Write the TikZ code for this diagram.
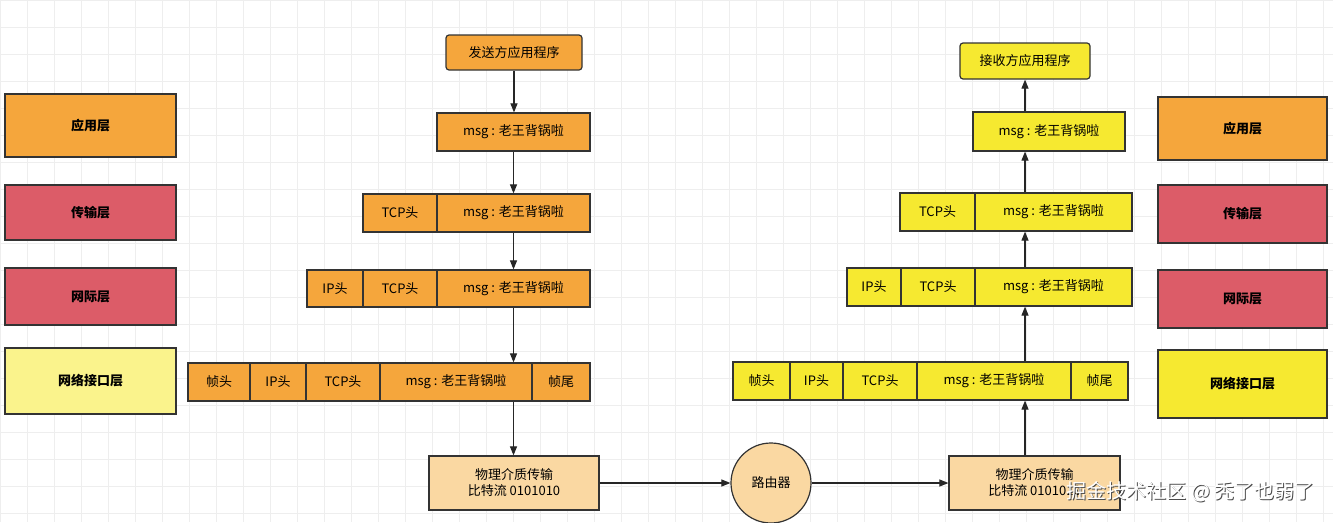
\documentclass[tikz,border=0pt]{standalone}
\usepackage{fontspec}
\setmainfont{Noto Sans CJK SC}
\usetikzlibrary{arrows.meta}
\definecolor{org}{HTML}{F5A63C}
\definecolor{redb}{HTML}{DC5C68}
\definecolor{ylw}{HTML}{F6E930}
\definecolor{lyl}{HTML}{FAF38C}
\definecolor{phy}{HTML}{FAD8A2}
\definecolor{grd}{HTML}{EEEEEE}
\begin{document}
\begin{tikzpicture}[x=1pt,y=-1pt,
  cell/.style={draw=black!80,line width=1.2pt,font=\fontsize{13}{16}\selectfont},
  side/.style={draw=black!80,line width=1.2pt,font=\fontsize{13}{15}\selectfont\bfseries},
  arr/.style={-{Triangle[length=9pt,width=7pt]},line width=1.1pt,draw=black!85}]
\useasboundingbox (0,0) rectangle (1333,522);
\fill[white] (0,0) rectangle (1333,522);
\foreach \x in {0,27,...,1333} \draw[grd,line width=0.6pt] (\x,0) -- (\x,522);
\foreach \y in {0,27,...,522} \draw[grd,line width=0.6pt] (0,\y) -- (1333,\y);
% side boxes
\node[side,fill=org,minimum width=171,minimum height=63] (la) at (90.5,125.5) {应用层};
\node[side,fill=redb,minimum width=171,minimum height=55] (lt) at (90.5,212.5) {传输层};
\node[side,fill=redb,minimum width=171,minimum height=57] (ln) at (90.5,296.5) {网际层};
\node[side,fill=lyl,minimum width=171,minimum height=66] (li) at (90.5,381) {网络接口层};
\node[side,fill=org,minimum width=169,minimum height=63] (ra) at (1242.5,128.5) {应用层};
\node[side,fill=redb,minimum width=169,minimum height=58] (rt) at (1242.5,214) {传输层};
\node[side,fill=redb,minimum width=169,minimum height=58] (rn) at (1242.5,299) {网际层};
\node[side,fill=ylw,minimum width=169,minimum height=68] (ri) at (1242.5,384) {网络接口层};
% left stack
\node[cell,fill=org,rounded corners=3pt,minimum width=136,minimum height=35] (sapp) at (514,52.5) {发送方应用程序};
\node[cell,fill=org,minimum width=153,minimum height=38] (s1m) at (513.5,132) {msg : 老王背锅啦};
\node[cell,fill=org,minimum width=74,minimum height=38] (s2t) at (400,213) {TCP头};
\node[cell,fill=org,minimum width=153,minimum height=38] (s2m) at (513.5,213) {msg : 老王背锅啦};
\node[cell,fill=org,minimum width=56,minimum height=37] (s3i) at (335,288.5) {IP头};
\node[cell,fill=org,minimum width=74,minimum height=37] (s3t) at (400,288.5) {TCP头};
\node[cell,fill=org,minimum width=153,minimum height=37] (s3m) at (513.5,288.5) {msg : 老王背锅啦};
\node[cell,fill=org,minimum width=62,minimum height=38] (s4f) at (219,382) {帧头};
\node[cell,fill=org,minimum width=56,minimum height=38] (s4i) at (278,382) {IP头};
\node[cell,fill=org,minimum width=74,minimum height=38] (s4t) at (343,382) {TCP头};
\node[cell,fill=org,minimum width=152,minimum height=38] (s4m) at (456,382) {msg : 老王背锅啦};
\node[cell,fill=org,minimum width=58,minimum height=38] (s4e) at (561,382) {帧尾};
\node[cell,fill=phy,minimum width=170,minimum height=54,align=center] (sphy) at (514,483) {物理介质传输\\比特流 0101010};
\node[cell,fill=phy,circle,minimum size=80] (router) at (771,483) {路由器};
% right stack
\node[cell,fill=ylw,rounded corners=3pt,minimum width=130,minimum height=36] (rapp) at (1025,61) {接收方应用程序};
\node[cell,fill=ylw,minimum width=152,minimum height=39] (r1m) at (1049,131.5) {msg : 老王背锅啦};
\node[cell,fill=ylw,minimum width=75,minimum height=38] (r2t) at (937.5,212) {TCP头};
\node[cell,fill=ylw,minimum width=157,minimum height=38] (r2m) at (1053.5,212) {msg : 老王背锅啦};
\node[cell,fill=ylw,minimum width=54,minimum height=38] (r3i) at (874,287) {IP头};
\node[cell,fill=ylw,minimum width=74,minimum height=38] (r3t) at (938,287) {TCP头};
\node[cell,fill=ylw,minimum width=157,minimum height=38] (r3m) at (1053.5,287) {msg : 老王背锅啦};
\node[cell,fill=ylw,minimum width=57,minimum height=38] (r4f) at (761.5,381) {帧头};
\node[cell,fill=ylw,minimum width=53,minimum height=38] (r4i) at (816.5,381) {IP头};
\node[cell,fill=ylw,minimum width=74,minimum height=38] (r4t) at (880,381) {TCP头};
\node[cell,fill=ylw,minimum width=154,minimum height=38] (r4m) at (994,381) {msg : 老王背锅啦};
\node[cell,fill=ylw,minimum width=57,minimum height=38] (r4e) at (1099.5,381) {帧尾};
\node[cell,fill=phy,minimum width=171,minimum height=54,align=center] (rphy) at (1034.5,483) {物理介质传输\\比特流 0101010};
% arrows left
\draw[arr] (sapp.south) -- (sapp.south |- s1m.north);
\draw[arr] (s1m.south) -- (s1m.south |- s2m.north);
\draw[arr] (s2m.south) -- (s2m.south |- s3m.north);
\draw[arr] (s3m.south) -- (s3m.south |- s4m.north);
\draw[arr] (s3m.south |- s4m.south) -- (s3m.south |- sphy.north);
\draw[arr] (sphy.east) -- (router.west);
\draw[arr] (router.east) -- (rphy.west);
% arrows right
\coordinate (rx) at (1025,0);
\draw[arr] (rx |- rphy.north) -- (rx |- r4m.south);
\draw[arr] (rx |- r4m.north) -- (rx |- r3m.south);
\draw[arr] (rx |- r3m.north) -- (rx |- r2m.south);
\draw[arr] (rx |- r2m.north) -- (rx |- r1m.south);
\draw[arr] (rx |- r1m.north) -- (rapp.south);
% watermark
\node[text=black!70,font=\fontsize{20}{22}\selectfont,anchor=east] (wm2) at (1319,493) {掘金技术社区 @ 秃了也弱了};
\node[text=white,font=\fontsize{20}{22}\selectfont,anchor=east] (wm) at (1318,492) {掘金技术社区 @ 秃了也弱了};
\end{tikzpicture}
\end{document}
